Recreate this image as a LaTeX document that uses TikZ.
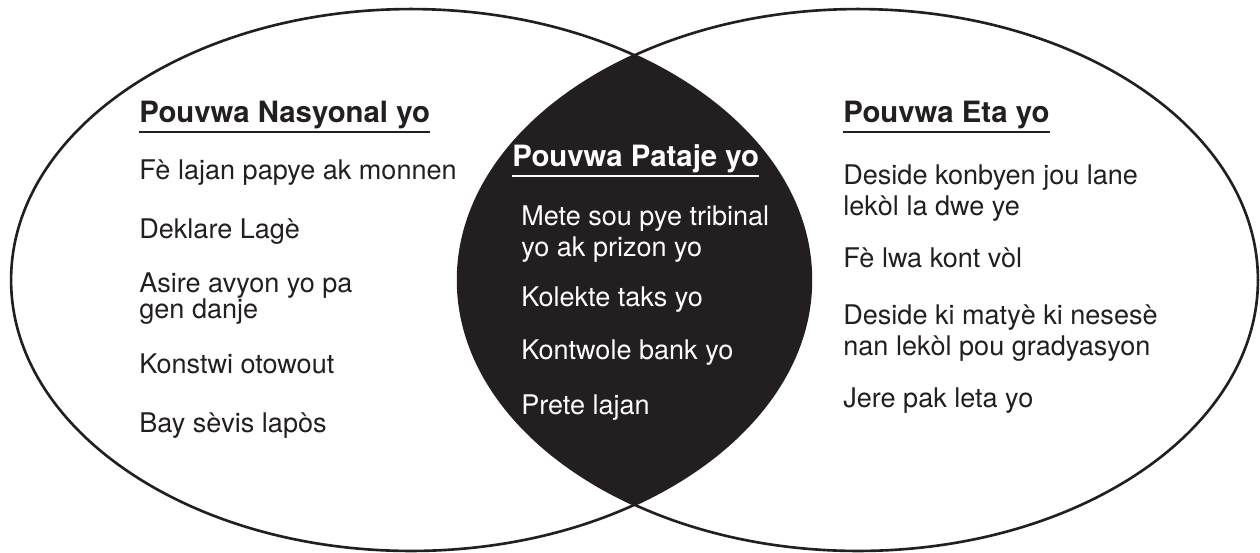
\documentclass[tikz,border=0pt]{standalone}
\usepackage{fontspec}
\setmainfont{TeX Gyre Heros}
\usetikzlibrary{positioning}
\definecolor{ink}{HTML}{231F20}

\begin{document}
\begin{tikzpicture}[x=0.02cm, y=-0.02cm]
\tikzstyle{item}=[anchor=base west, inner sep=0pt, align=left, text=ink, font=\fontsize{15.4pt}{17.6pt}\selectfont]
\tikzstyle{head}=[anchor=base west, inner sep=0pt, text=ink, font=\fontsize{16.7pt}{19pt}\selectfont\bfseries]
\tikzstyle{uline}=[line width=1.3pt, draw=ink]
\tikzstyle{ring}=[line width=1.5pt, draw=ink]
	\useasboundingbox (0,0) rectangle (1260,552);

	% shared part
	\begin{scope}
		\clip (411,280) ellipse [x radius=8cm, y radius=5.42cm];
		\fill[ink] (858,280) ellipse [x radius=8cm, y radius=5.42cm];
	\end{scope}
	\draw[ring] (411,280) ellipse [x radius=8cm, y radius=5.42cm];
	\draw[ring] (858,280) ellipse [x radius=8cm, y radius=5.42cm];

	% national (base = last line)
	\node[head] (natH) at (139,122) {Pouvwa Nasyonal yo};
	\node[item] (nat1) at (139,179) {Fè lajan papye ak monnen};
	\node[item] (nat2) at (139,238) {Deklare Lagè};
	\node[item, font=\fontsize{15.4pt}{14.7pt}\selectfont] (nat3) at (139,318) {Asire avyon yo pa\\gen danje};
	\node[item] (nat4) at (139,373) {Konstwi otowout};
	\node[item] (nat5) at (139,432) {Bay sèvis lapòs};

	% shared
	\node[head, text=white] (patH) at (512,166) {Pouvwa Pataje yo};
	\node[item, text=white] (pat1) at (521,256) {Mete sou pye tribinal\\yo ak prizon yo};
	\node[item, text=white] (pat2) at (521,306) {Kolekte taks yo};
	\node[item, text=white] (pat3) at (521,359) {Kontwole bank yo};
	\node[item, text=white] (pat4) at (521,414) {Prete lajan};

	% state
	\node[head] (etaH) at (843,122) {Pouvwa Eta yo};
	\node[item] (eta1) at (843,215) {Deside konbyen jou lane\\lekòl la dwe ye};
	\node[item] (eta2) at (843,267) {Fè lwa kont vòl};
	\node[item] (eta3) at (843,355) {Deside ki matyè ki nesesè\\nan lekòl pou gradyasyon};
	\node[item] (eta4) at (843,407) {Jere pak leta yo};

	\draw[uline] ([yshift=-5.7pt] natH.base west) -- ([yshift=-5.7pt] natH.base east);
	\draw[uline, draw=white] ([yshift=-5.7pt] patH.base west) -- ([yshift=-5.7pt] patH.base east);
	\draw[uline] ([yshift=-5.7pt] etaH.base west) -- ([yshift=-5.7pt] etaH.base east);
\end{tikzpicture}
\end{document}
